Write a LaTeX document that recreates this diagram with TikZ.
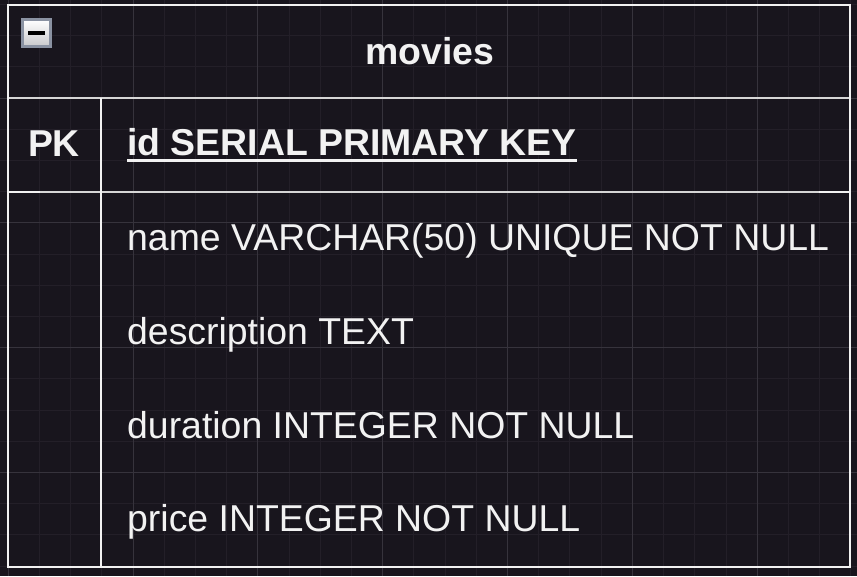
\documentclass[tikz,border=0pt]{standalone}
\usepackage{fontspec}
\setmainfont{Liberation Sans}
\usetikzlibrary{calc}
\definecolor{bg}{HTML}{18151D}
\definecolor{gmin}{HTML}{231F28}
\definecolor{gmaj}{HTML}{36333C}
\definecolor{fg}{HTML}{F2F2F2}
\definecolor{sepcol}{HTML}{D6D6D6}
\definecolor{icoborder}{HTML}{8A92A2}
\definecolor{icobot}{HTML}{C9C9CC}
\tikzset{
  txt/.style={text=fg, inner sep=0pt, font=\fontsize{37.4}{44}\selectfont},
  btxt/.style={txt, font=\fontsize{37.4}{44}\selectfont\bfseries},
  frame/.style={draw=fg, line width=2.6pt},
  sepline/.style={draw=sepcol, line width=2.6pt},
  minorgrid/.style={draw=gmin, line width=1pt},
  majorgrid/.style={draw=gmaj, line width=1pt},
}
\begin{document}
\begin{tikzpicture}[x=1pt,y=-1pt]
  % background
  \fill[bg] (0,0) rectangle (857,576);
  \useasboundingbox (0,0) rectangle (857,576);
  % grid
  \foreach \i in {0,...,27} {
    \pgfmathsetmacro{\gx}{8.2+31.21*\i}
    \draw[minorgrid] (\gx,0) -- (\gx,576);
  }
  \foreach \i in {0,...,19} {
    \pgfmathsetmacro{\gy}{4.4+31.21*\i}
    \draw[minorgrid] (0,\gy) -- (857,\gy);
  }
  \foreach \i in {0,...,6} {
    \pgfmathsetmacro{\gx}{8.2+124.83*\i}
    \draw[majorgrid] (\gx,0) -- (\gx,576);
  }
  \foreach \i in {0,...,4} {
    \pgfmathsetmacro{\gy}{-26.8+124.83*\i}
    \draw[majorgrid] (0,\gy) -- (857,\gy);
  }
  % named corner coordinates
  \coordinate (tl) at (8,5);
  \coordinate (br) at (850,567);
  \coordinate (sepL) at (8,98);
  \coordinate (sepR) at (850,98);
  \coordinate (rowL) at (8,192);
  \coordinate (rowR) at (850,192);
  \coordinate (colT) at (101,98);
  \coordinate (colB) at (101,567);
  % separators
  \draw[sepline] (sepL) -- (sepR);
  \draw[sepline] (rowL) -- (rowR);
  \draw[frame] (rowL) -- ++(32,0);
  \draw[frame] (rowR) -- ++(-31,0);
  \draw[frame] (colT) -- (colB);
  % outer frame
  \draw[frame] (tl) rectangle (br);
  % collapse icon
  \node[draw=icoborder, line width=3pt, top color=white, bottom color=icobot,
        minimum width=28.5pt, minimum height=26.5pt, inner sep=0pt] (icon) at (36.4,33) {};
  \fill[black] ($(icon.center)+(-8.5,-1.6)$) rectangle ($(icon.center)+(8.5,1.8)$);
  % texts
  \node[btxt, anchor=base] (title) at (430,64) {movies};
  \node[btxt, anchor=base] (pk) at (54,156) {PK};
  \node[btxt, anchor=base west] (idcol) at (127,155.5) {id SERIAL PRIMARY KEY};
  \draw[draw=fg, line width=2.2pt] ($(idcol.base west)+(0,5)$) -- ($(idcol.base east)+(0,5)$);
  \node[txt, anchor=base west] (name) at (127,250) {name VARCHAR(50) UNIQUE NOT NULL};
  \node[txt, anchor=base west] (desc) at (127,344) {description TEXT};
  \node[txt, anchor=base west] (dur) at (127,438) {duration INTEGER NOT NULL};
  \node[txt, anchor=base west] (price) at (127,531) {price INTEGER NOT NULL};
\end{tikzpicture}
\end{document}
